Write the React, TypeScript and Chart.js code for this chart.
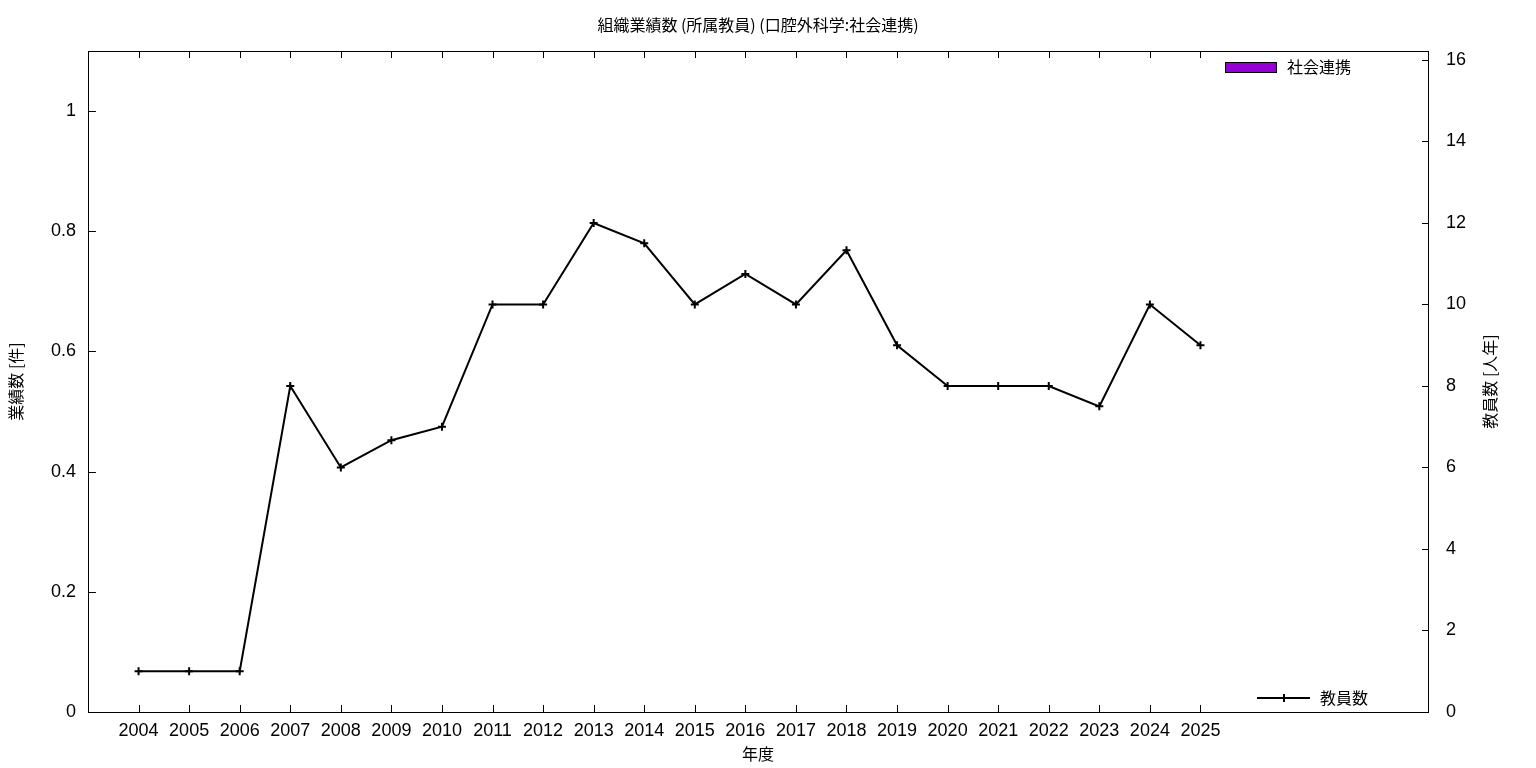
import React, { useEffect, useRef } from "react";
import { Chart, registerables } from "chart.js";

Chart.register(...registerables);

const TITLE = "組織業績数 (所属教員) (口腔外科学:社会連携)";
const X_TITLE = "年度";
const Y_LEFT_TITLE = "業績数 [件]";
const Y_RIGHT_TITLE = "教員数 [人年]";

const years = [2004, 2005, 2006, 2007, 2008, 2009, 2010, 2011, 2012, 2013, 2014, 2015, 2016, 2017, 2018, 2019, 2020, 2021, 2022, 2023, 2024, 2025];
const socialValues = [0, 0, 0, 0, 0, 0, 0, 0, 0, 0, 0, 0, 0, 0, 0, 0, 0, 0, 0, 0, 0, 0];
const staffValues = [1, 1, 1, 8, 6, 6.67, 7, 10, 10, 12, 11.5, 10, 10.75, 10, 11.33, 9, 8, 8, 8, 7.5, 10, 9];
const leftTicks = [0, 0.2, 0.4, 0.6, 0.8, 1];
const rightTicks = [0, 2, 4, 6, 8, 10, 12, 14, 16];

const X_MIN = 2003;
const X_MAX = 2029.5;
const LEFT_MAX = 1.1;
const RIGHT_MAX = 16.22;

const NUM_FONT = "'Liberation Sans', 'Noto Sans CJK JP', sans-serif";
const CJK_FONT = "'Noto Sans CJK JP', 'Liberation Sans', sans-serif";

const decoPlugin = {
  id: "deco",
  afterDraw(chart: any) {
    const ctx = chart.ctx as CanvasRenderingContext2D;
    const a = chart.chartArea;
    const sx = chart.scales.x;
    const sy = chart.scales.y;
    const sy2 = chart.scales.y2;
    ctx.save();
    ctx.strokeStyle = "#000";
    ctx.lineWidth = 1;
    // border
    ctx.strokeRect(Math.round(a.left) + 0.5, Math.round(a.top) + 0.5, Math.round(a.right - a.left), Math.round(a.bottom - a.top));
    // x ticks (bottom and mirrored top)
    ctx.beginPath();
    sx.ticks.forEach((t: any) => {
      const px = Math.round(sx.getPixelForValue(t.value)) + 0.5;
      ctx.moveTo(px, a.bottom);
      ctx.lineTo(px, a.bottom - 7);
      ctx.moveTo(px, a.top);
      ctx.lineTo(px, a.top + 7);
    });
    sy.ticks.forEach((t: any) => {
      const py = Math.round(sy.getPixelForValue(t.value)) + 0.5;
      ctx.moveTo(a.left, py);
      ctx.lineTo(a.left + 8, py);
    });
    sy2.ticks.forEach((t: any) => {
      const py = Math.round(sy2.getPixelForValue(t.value)) + 0.5;
      ctx.moveTo(a.right, py);
      ctx.lineTo(a.right - 6, py);
    });
    ctx.stroke();

    // texts
    ctx.fillStyle = "#000";
    ctx.textAlign = "center";
    ctx.textBaseline = "middle";
    ctx.font = `16px ${CJK_FONT}`;
    const cx = (a.left + a.right) / 2;
    const cy = (a.top + a.bottom) / 2;
    ctx.fillText(TITLE, cx, 25);
    ctx.fillText(X_TITLE, cx, 754);
    ctx.save();
    ctx.translate(16, cy);
    ctx.rotate(-Math.PI / 2);
    ctx.fillText(Y_LEFT_TITLE, 0, 0);
    ctx.restore();
    ctx.save();
    ctx.translate(1490, cy);
    ctx.rotate(-Math.PI / 2);
    ctx.fillText(Y_RIGHT_TITLE, 0, 0);
    ctx.restore();

    // legends
    const barDs = chart.data.datasets[0];
    const lineDs = chart.data.datasets[1];
    ctx.textAlign = "left";
    ctx.fillStyle = barDs.backgroundColor;
    ctx.fillRect(1226, 63, 50, 9);
    ctx.strokeStyle = "#000";
    ctx.strokeRect(1225.5, 62.5, 51, 10);
    ctx.fillStyle = "#000";
    ctx.fillText(barDs.label, 1287, 67);

    ctx.strokeStyle = lineDs.borderColor;
    ctx.lineWidth = 2;
    ctx.beginPath();
    ctx.moveTo(1257, 698);
    ctx.lineTo(1310, 698);
    ctx.moveTo(1284, 694);
    ctx.lineTo(1284, 702);
    ctx.stroke();
    ctx.fillText(lineDs.label, 1320, 698);
    ctx.restore();
  },
};

export default function App() {
  const ref = useRef<HTMLCanvasElement | null>(null);
  useEffect(() => {
    if (!ref.current) return;
    const chart = new Chart(ref.current, {
      type: "line",
      data: {
        datasets: [
          {
            type: "bar",
            label: "社会連携",
            data: years.map((y, i) => ({ x: y, y: socialValues[i] })),
            yAxisID: "y",
            backgroundColor: "#9400D3",
            borderColor: "#000",
            borderWidth: 0,
          } as any,
          {
            type: "line",
            label: "教員数",
            data: years.map((y, i) => ({ x: y, y: staffValues[i] })),
            yAxisID: "y2",
            borderColor: "#000",
            backgroundColor: "#000",
            borderWidth: 2,
            tension: 0,
            pointStyle: "cross",
            pointRadius: 4,
            pointBorderWidth: 2,
            pointBorderColor: "#000",
            fill: false,
          },
        ],
      },
      options: {
        animation: false,
        responsive: false,
        maintainAspectRatio: false,
        devicePixelRatio: 1,
        layout: { padding: { top: 51, left: 0, right: 0, bottom: 0 } },
        plugins: {
          legend: { display: false },
          title: { display: false },
          tooltip: { enabled: false },
        },
        scales: {
          x: {
            type: "linear",
            min: X_MIN,
            max: X_MAX,
            offset: false,
            grid: { display: false, drawTicks: false },
            border: { display: false },
            ticks: {
              color: "#000",
              font: { size: 18, family: NUM_FONT },
              padding: 8,
              maxRotation: 0,
              autoSkip: false,
              callback: (v: any) => String(v),
            },
            afterBuildTicks: (s: any) => {
              s.ticks = years.map((v) => ({ value: v }));
            },
            afterFit: (s: any) => {
              s.height = 56;
            },
          },
          y: {
            type: "linear",
            position: "left",
            min: 0,
            max: LEFT_MAX,
            grid: { display: false, drawTicks: false },
            border: { display: false },
            ticks: {
              color: "#000",
              font: { size: 18, family: NUM_FONT },
              padding: 12,
              callback: (v: any) => String(Number(Number(v).toFixed(1))),
            },
            afterBuildTicks: (s: any) => {
              s.ticks = leftTicks.map((v) => ({ value: v }));
            },
            afterFit: (s: any) => {
              s.width = 88;
            },
          },
          y2: {
            type: "linear",
            position: "right",
            min: 0,
            max: RIGHT_MAX,
            grid: { display: false, drawTicks: false },
            border: { display: false },
            ticks: {
              color: "#000",
              font: { size: 18, family: NUM_FONT },
              padding: 18,
              callback: (v: any) => String(v),
            },
            afterBuildTicks: (s: any) => {
              s.ticks = rightTicks.map((v) => ({ value: v }));
            },
            afterFit: (s: any) => {
              s.width = 108;
            },
          },
        },
      },
      plugins: [decoPlugin],
    });
    return () => chart.destroy();
  }, []);

  return (
    <div style={{ position: "absolute", left: 0, top: 0, width: 1536, height: 768, background: "#fff" }}>
      <canvas ref={ref} width={1536} height={768} style={{ display: "block", width: 1536, height: 768 }} />
    </div>
  );
}
